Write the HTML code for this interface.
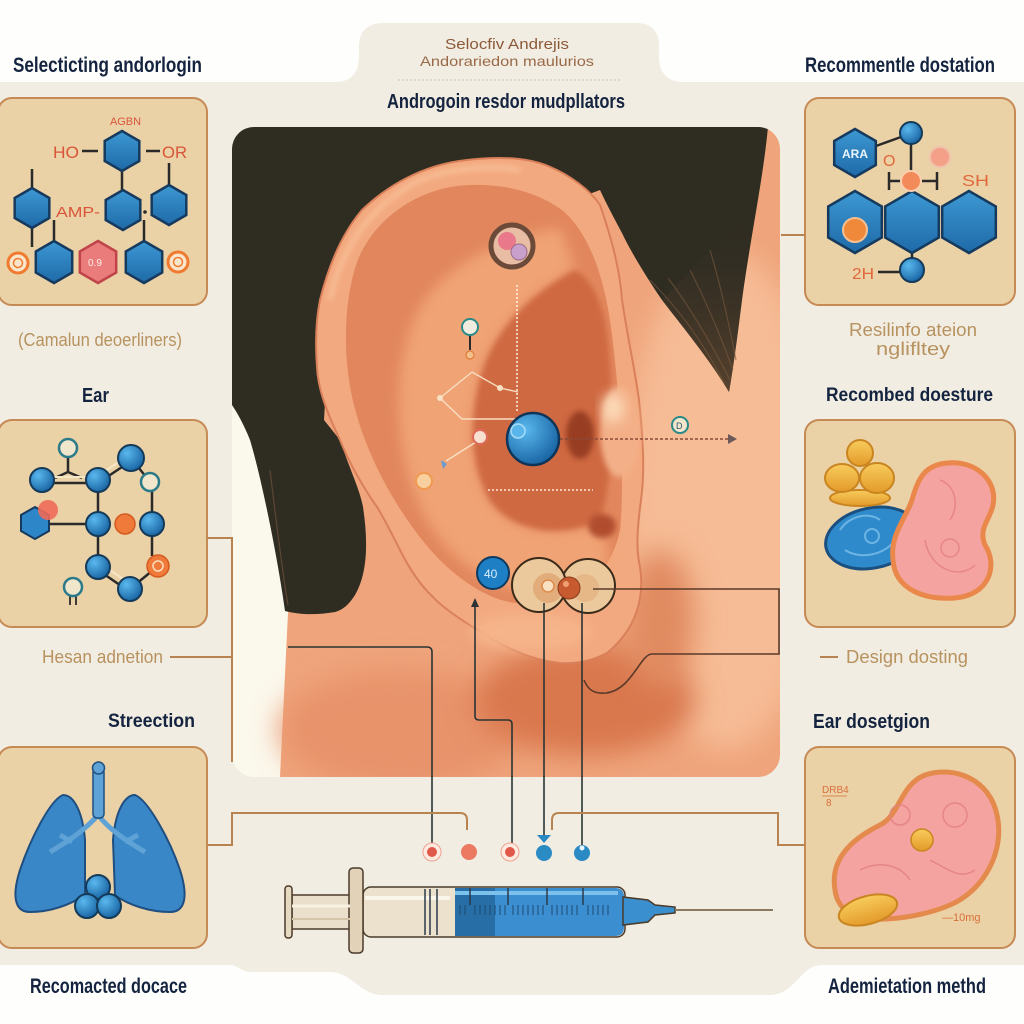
<!DOCTYPE html>
<html><head><meta charset="utf-8"><style>
html,body{margin:0;padding:0;background:#fefefc;}
svg{display:block;}
text{font-family:"Liberation Sans",sans-serif;}
</style></head><body>
<svg width="1024" height="1024" viewBox="0 0 1024 1024" xmlns="http://www.w3.org/2000/svg">
<defs>
 <clipPath id="img"><rect x="232" y="127" width="548" height="650" rx="22"/></clipPath>
 <filter id="b3" x="-20%" y="-20%" width="140%" height="140%"><feGaussianBlur stdDeviation="3"/></filter>
 <filter id="b6" x="-30%" y="-30%" width="160%" height="160%"><feGaussianBlur stdDeviation="6"/></filter>
 <filter id="b14" x="-50%" y="-50%" width="200%" height="200%"><feGaussianBlur stdDeviation="14"/></filter>
 <radialGradient id="ballg" cx="0.35" cy="0.32" r="0.75"><stop offset="0" stop-color="#5ab8ee"/><stop offset="1" stop-color="#15609f"/></radialGradient>
 <linearGradient id="hexg" x1="0" y1="0" x2="0" y2="1"><stop offset="0" stop-color="#3d98d3"/><stop offset="1" stop-color="#1e6aa8"/></linearGradient>
 <linearGradient id="goldg" x1="0" y1="0" x2="0" y2="1"><stop offset="0" stop-color="#f8cc5c"/><stop offset="1" stop-color="#e39a2a"/></linearGradient>
 <linearGradient id="hairside" x1="0" y1="0" x2="0" y2="1"><stop offset="0" stop-color="#2f2c22" stop-opacity="0"/><stop offset="1" stop-color="#6b4c33" stop-opacity="0.7"/></linearGradient>
</defs>

<rect width="1024" height="1024" fill="#fefefc"/>
<path d="M0,82 H335 Q358,82 359,58 V45 Q360,23 384,23 H636 Q658,23 659,45 V58 Q660,82 684,82 H1024 V965 H822 C800,965 795,995 770,995 H382 C360,995 352,972 330,972 H252 C240,972 240,965 228,965 H0 Z" fill="#f1ede2"/>
<line x1="398" y1="80" x2="620" y2="80" stroke="#d2ccbf" stroke-width="1.2" stroke-dasharray="2 2"/>

<text x="13" y="72" font-size="21" font-weight="bold" fill="#14233f" textLength="189" lengthAdjust="spacingAndGlyphs">Selecticting andorlogin</text>
<text x="805" y="72" font-size="21" font-weight="bold" fill="#14233f" textLength="190" lengthAdjust="spacingAndGlyphs">Recommentle dostation</text>
<text x="445" y="49" font-size="15" fill="#8c5a3a" textLength="124" lengthAdjust="spacingAndGlyphs">Selocfiv Andrejis</text>
<text x="420" y="66" font-size="14" fill="#9a6a48" textLength="174" lengthAdjust="spacingAndGlyphs">Andorariedon maulurios</text>
<text x="387" y="108" font-size="20" font-weight="bold" fill="#14233f" textLength="238" lengthAdjust="spacingAndGlyphs">Androgoin resdor mudpllators</text>

<text x="18" y="346" font-size="18" fill="#b8925f" textLength="164" lengthAdjust="spacingAndGlyphs">(Camalun deoerliners)</text>
<text x="82" y="402" font-size="20" font-weight="bold" fill="#14233f" textLength="27" lengthAdjust="spacingAndGlyphs">Ear</text>
<text x="42" y="663" font-size="18" fill="#b8925f" textLength="121" lengthAdjust="spacingAndGlyphs">Hesan adnetion</text>
<text x="108" y="727" font-size="19" font-weight="bold" fill="#14233f" textLength="87" lengthAdjust="spacingAndGlyphs">Streection</text>
<text x="30" y="993" font-size="21" font-weight="bold" fill="#14233f" textLength="157" lengthAdjust="spacingAndGlyphs">Recomacted docace</text>

<text x="849" y="336" font-size="18" fill="#b8925f" textLength="128" lengthAdjust="spacingAndGlyphs">Resilinfo ateion</text>
<text x="876" y="355" font-size="18" fill="#b8925f" textLength="74" lengthAdjust="spacingAndGlyphs">nglifltey</text>
<text x="826" y="401" font-size="19" font-weight="bold" fill="#14233f" textLength="167" lengthAdjust="spacingAndGlyphs">Recombed doesture</text>
<text x="846" y="663" font-size="18" fill="#b8925f" textLength="122" lengthAdjust="spacingAndGlyphs">Design dosting</text>
<text x="813" y="728" font-size="20" font-weight="bold" fill="#14233f" textLength="117" lengthAdjust="spacingAndGlyphs">Ear dosetgion</text>
<text x="828" y="993" font-size="21" font-weight="bold" fill="#14233f" textLength="158" lengthAdjust="spacingAndGlyphs">Ademietation methd</text>

<g fill="#ebd1a6" stroke="#c68a55" stroke-width="2">
 <rect x="-2" y="98" width="209" height="207" rx="14"/>
 <rect x="-2" y="420" width="209" height="207" rx="14"/>
 <rect x="-2" y="747" width="209" height="201" rx="14"/>
 <rect x="805" y="98" width="210" height="207" rx="14"/>
 <rect x="805" y="420" width="210" height="207" rx="14"/>
 <rect x="805" y="747" width="210" height="201" rx="14"/>
</g>

<!-- CENTER IMAGE -->
<g clip-path="url(#img)">
 <rect x="232" y="127" width="548" height="650" fill="#fbf8ec"/>
 <path d="M290,127 H780 V777 H280 L288,613 Z" fill="#efa47b"/>
 <ellipse cx="725" cy="500" rx="100" ry="250" fill="#f6bc95" filter="url(#b14)"/>
 <ellipse cx="400" cy="730" rx="120" ry="60" fill="#e8936a" filter="url(#b14)"/>
 <ellipse cx="585" cy="700" rx="110" ry="55" fill="#d9774e" filter="url(#b14)"/>
 <ellipse cx="660" cy="620" rx="35" ry="70" fill="#e18a60" filter="url(#b14)"/>
 <!-- hair -->
 <path d="M232,127 H768 C763,180 750,240 742,300 C737,340 733,370 729,392 C710,360 685,330 662,300 C645,275 630,250 622,233 C615,220 607,205 600,190 L560,205 L470,200 L380,218 L332,282 L324,420 L340,440 C350,470 360,490 363,507 C368,540 368,573 355,595 C348,606 342,610 335,612 C318,615 300,615 285,611 C278,560 262,480 250,440 C244,425 238,414 232,405 Z" fill="#2f2c22"/>
 <path d="M662,300 C685,330 710,360 729,392 C733,370 737,340 742,300 C745,270 748,240 752,210 C720,240 690,270 662,300 Z" fill="url(#hairside)"/>
 <g stroke="#7a5a3e" stroke-width="1.2" fill="none" opacity="0.6">
  <path d="M650,280 C680,310 705,345 725,385"/>
  <path d="M668,278 C692,310 712,345 730,380"/>
  <path d="M690,270 C708,305 722,340 733,370"/>
  <path d="M710,250 C722,290 730,330 736,360"/>
  <path d="M270,470 C276,520 282,570 288,605"/>
 </g>
 <!-- ear -->
 <path d="M640,567 C645,600 635,630 607,653 C590,662 575,664 560,663 C530,660 500,645 483,633 C460,620 440,605 433,597 C420,585 410,570 400,550 C390,530 382,515 377,507 C365,490 350,465 340,440 C328,415 318,390 317,367 C315,340 316,320 320,300 C330,260 345,230 362,210 C385,188 420,165 467,160 C500,156 528,158 548,166 C570,175 590,190 600,205 C612,240 620,270 622,300 C628,340 635,370 639,400 C643,440 645,470 641,500 C637,530 636,550 640,567 Z" fill="#f3a97f" stroke="#d9805a" stroke-width="2"/>
 <path d="M330,300 C340,250 370,205 420,180 C450,168 490,165 520,170" fill="none" stroke="#fbd0aa" stroke-width="4" opacity="0.7" filter="url(#b3)"/>
 <path d="M612,335 C606,285 592,235 562,210 C532,188 492,182 457,186 C412,192 372,222 357,262 C344,300 343,350 351,392 C361,442 386,492 416,532 C441,566 471,590 501,600 C531,608 561,604 581,590 C601,576 615,556 620,530 C625,480 620,400 612,335 Z" fill="#e2875d"/>
 <path d="M560,228 C520,235 460,252 425,300 C395,345 392,420 410,480 C425,530 460,575 520,590 C560,598 600,580 610,560 L600,520 C560,540 510,530 490,500 C470,465 470,420 480,380 C490,340 520,300 575,270 Z" fill="#f0a374" filter="url(#b6)"/>
 <path d="M575,270 C520,300 490,340 480,380 C470,420 470,465 490,500 C510,530 560,540 600,520 C615,480 615,380 605,320 C598,295 590,278 575,270 Z" fill="#cf6943" filter="url(#b3)"/>
 <ellipse cx="580" cy="435" rx="14" ry="24" fill="#983e24" filter="url(#b3)"/>
 <ellipse cx="620" cy="432" rx="20" ry="45" fill="#f3b088" filter="url(#b3)"/>
 <ellipse cx="613" cy="408" rx="11" ry="15" fill="#fcd9b8" filter="url(#b6)"/>
 <ellipse cx="602" cy="526" rx="14" ry="12" fill="#b14d2e" filter="url(#b3)"/>
 <ellipse cx="530" cy="632" rx="60" ry="18" fill="#f6b48a" filter="url(#b6)"/>

 <!-- annotations on ear -->
 <circle cx="512" cy="246" r="21" fill="#e9bca4" stroke="#6b4a3a" stroke-width="5"/>
 <circle cx="507" cy="241" r="9" fill="#e8788a"/>
 <circle cx="519" cy="252" r="8" fill="#c9a0cc" stroke="#9a6a8a" stroke-width="1"/>
 <line x1="517" y1="285" x2="517" y2="412" stroke="#fff3e6" stroke-width="1.5" stroke-dasharray="2 2"/>
 <g stroke="#f8dcc0" stroke-width="1.4" fill="none">
  <path d="M472,372 L440,398 L462,419 L516,419 M472,372 L500,388 L518,392"/>
 </g>
 <circle cx="440" cy="398" r="3" fill="#f8e0c4"/><circle cx="500" cy="388" r="3" fill="#f8e0c4"/>
 <line x1="470" y1="334" x2="470" y2="350" stroke="#2a2a2a" stroke-width="2"/>
 <circle cx="470" cy="327" r="8" fill="#f0ede0" stroke="#2a8a8a" stroke-width="2"/>
 <circle cx="470" cy="355" r="4" fill="#f3c28c" stroke="#e07a3a" stroke-width="1.2"/>
 <line x1="476" y1="442" x2="446" y2="461" stroke="#f8e0c4" stroke-width="1.4"/>
 <circle cx="480" cy="437" r="7" fill="#f8e0d0" stroke="#e06a5a" stroke-width="2"/>
 <path d="M441,460 L447,464 L443,469 Z" fill="#6a9ad0"/>
 <circle cx="424" cy="481" r="8" fill="#f8d0a0" stroke="#f09a50" stroke-width="2"/>
 <line x1="488" y1="490" x2="593" y2="490" stroke="#fbe8d6" stroke-width="1.5" stroke-dasharray="2 2"/>
 <line x1="560" y1="439" x2="728" y2="439" stroke="#8a4a3a" stroke-width="1.5" stroke-dasharray="3 2"/>
 <path d="M728,434 L737,439 L728,444 Z" fill="#6a5a5a"/>
 <circle cx="680" cy="425" r="8" fill="#f3e6cc" stroke="#2a8a8a" stroke-width="2"/>
 <text x="676" y="429" font-size="9" fill="#2a5a6a">D</text>
 <circle cx="533" cy="439" r="26" fill="url(#ballg)" stroke="#0e3458" stroke-width="2.5"/>
 <circle cx="518" cy="431" r="7" fill="#5ab5ea" stroke="#a8dcf8" stroke-width="1.5"/>
 <!-- lobe ring -->
 <circle cx="588" cy="586" r="27" fill="#ebc99c" stroke="#3a2a1a" stroke-width="2"/>
 <circle cx="539" cy="585" r="27" fill="#ebc99c" stroke="#3a2a1a" stroke-width="2"/>
 <circle cx="548" cy="588" r="15" fill="#e2ad7a"/>
 <circle cx="585" cy="588" r="14" fill="#e6b888"/>
 <circle cx="548" cy="586" r="6" fill="#f8e0c0" stroke="#e08a4a" stroke-width="1.5"/>
 <circle cx="569" cy="588" r="11" fill="#c85a30" stroke="#8a3a1a" stroke-width="1"/>
 <circle cx="566" cy="584" r="3" fill="#f0a070"/>
 <circle cx="493" cy="573" r="16" fill="#1f7fc4" stroke="#0f3a60" stroke-width="2"/>
 <text x="484" y="578" font-size="12" fill="#d8f0ff">40</text>
 <g stroke="#2a3434" stroke-width="1.6" fill="none">
  <path d="M288,647 H427 Q432,647 432,652 V800"/>
  <path d="M475,606 V716 Q475,720 479,720 H508 Q512,720 512,724 V800"/>
  <path d="M544,603 V800"/>
  <path d="M582,603 V800"/>
 </g>
 <path d="M475,598 L471,607 L479,607 Z" fill="#2a3434"/>
 <g stroke="#5a3a2a" stroke-width="1.6" fill="none">
  <path d="M593,589 H779 V654 H652 C640,654 632,690 606,693 C594,694 588,690 584,680"/>
 </g>
</g>

<g stroke="#2a3434" stroke-width="1.6" fill="none">
 <path d="M432,776 V844"/><path d="M512,776 V844"/><path d="M544,776 V836"/><path d="M582,776 V845"/>
</g>
<path d="M537,835 L551,835 L544,843 Z" fill="#2a8ac4"/>
<g stroke="#b9834f" stroke-width="2" fill="none">
 <path d="M207,538 H232 V762"/>
 <path d="M170,657 H232"/>
 <path d="M207,845 H232 V813 H460 Q467,813 467,820 V830"/>
 <path d="M552,830 V820 Q552,813 559,813 H778 V845 H805"/>
 <path d="M805,235 H781"/>
 <path d="M820,657 H838"/>
</g>
<circle cx="432" cy="852" r="9" fill="#fdebe0" stroke="#f0a090" stroke-width="1"/><circle cx="432" cy="852" r="5" fill="#e0584a"/>
<circle cx="469" cy="852" r="8" fill="#ec7a62"/>
<circle cx="510" cy="852" r="9" fill="#fdebe0" stroke="#f0a090" stroke-width="1"/><circle cx="510" cy="852" r="5" fill="#e0584a"/>
<circle cx="544" cy="853" r="8" fill="#2a8ac4"/>
<circle cx="582" cy="853" r="8" fill="#2a8ac4"/><circle cx="582" cy="848" r="2.5" fill="#e8f4fc"/>

<!-- syringe -->
<g stroke="#4a3a2a" stroke-width="1.5">
 <rect x="292" y="895" width="58" height="34" fill="#eadfca"/>
 <rect x="285" y="886" width="7" height="52" rx="3" fill="#e6d9c2"/>
 <rect x="363" y="887" width="262" height="50" rx="8" fill="#ece1cc"/>
 <path d="M455,888 H615 Q624,888 624,897 V927 Q624,936 615,936 H455 Z" fill="#3b8fd0" stroke="none"/>
 <rect x="455" y="888" width="40" height="48" fill="#1f5f94" stroke="none" opacity="0.7"/>
 <rect x="349" y="868" width="14" height="85" rx="4" fill="#e2d3b8"/>
 <path d="M623,897 L648,900 L655,905 L675,907 L675,913 L655,915 L648,922 L623,925 Z" fill="#3a8fcf"/>
</g>
<line x1="292" y1="906" x2="350" y2="906" stroke="#f8f0e0" stroke-width="3"/>
<line x1="292" y1="919" x2="350" y2="919" stroke="#d4c4a8" stroke-width="2"/>
<line x1="365" y1="898" x2="450" y2="898" stroke="#fbf6ec" stroke-width="4"/>
<line x1="455" y1="893" x2="618" y2="893" stroke="#7cc0ec" stroke-width="4"/>
<g stroke="#2a3a4a" stroke-width="1.5">
 <line x1="425" y1="889" x2="425" y2="935"/><line x1="430" y1="889" x2="430" y2="935"/><line x1="437" y1="889" x2="437" y2="935"/>
 <line x1="470" y1="888" x2="470" y2="905"/><line x1="508" y1="888" x2="508" y2="905"/><line x1="547" y1="888" x2="547" y2="905"/><line x1="583" y1="888" x2="583" y2="905"/>
</g>
<g stroke="#1d4a70" stroke-width="1">
 <path d="M460,905 v10 M465,905 v10 M475,905 v10 M480,905 v10 M485,905 v10 M490,905 v10 M495,905 v10 M500,905 v10 M505,905 v10 M513,905 v10 M518,905 v10 M523,905 v10 M528,905 v10 M533,905 v10 M538,905 v10 M543,905 v10 M552,905 v10 M557,905 v10 M562,905 v10 M567,905 v10 M572,905 v10 M577,905 v10 M588,905 v10 M593,905 v10 M598,905 v10 M603,905 v10 M608,905 v10"/>
</g>
<line x1="675" y1="910" x2="773" y2="910" stroke="#8a7a60" stroke-width="2"/>

<!-- BOX 1 molecule -->
<g stroke="#2a2a2a" stroke-width="2.5">
 <line x1="32" y1="169" x2="32" y2="188"/><line x1="32" y1="228" x2="32" y2="247"/>
 <line x1="122" y1="170" x2="122" y2="190"/><line x1="169" y1="163" x2="169" y2="185"/>
 <line x1="54" y1="220" x2="54" y2="242"/><line x1="144" y1="220" x2="144" y2="242"/>
 <line x1="82" y1="151" x2="98" y2="151"/><line x1="146" y1="151" x2="160" y2="151"/>
</g>
<g fill="url(#hexg)" stroke="#163a5e" stroke-width="2.5">
 <polygon points="122,131 139.3,141 139.3,161 122,171 104.7,161 104.7,141"/>
 <polygon points="32,188 49.3,198 49.3,218 32,228 14.7,218 14.7,198"/>
 <polygon points="123,190 140.3,200 140.3,220 123,230 105.7,220 105.7,200"/>
 <polygon points="169,185 186.3,195 186.3,215 169,225 151.7,215 151.7,195"/>
 <polygon points="54,241 72.2,251.5 72.2,272.5 54,283 35.8,272.5 35.8,251.5"/>
 <polygon points="144,241 162.2,251.5 162.2,272.5 144,283 125.8,272.5 125.8,251.5"/>
</g>
<polygon points="98,241 116.2,251.5 116.2,272.5 98,283 79.8,272.5 79.8,251.5" fill="#ea7c7c" stroke="#c0454a" stroke-width="2.5"/>
<text x="88" y="266" font-size="10" fill="#fff0e8">0.9</text>
<circle cx="145" cy="212" r="1.8" fill="#2a2a2a"/>
<text x="110" y="125" font-size="11" fill="#d9553a" textLength="31" lengthAdjust="spacingAndGlyphs">AGBN</text>
<text x="53" y="158" font-size="17" fill="#d9553a" textLength="26" lengthAdjust="spacingAndGlyphs">HO</text>
<text x="162" y="158" font-size="17" fill="#d9553a" textLength="25" lengthAdjust="spacingAndGlyphs">OR</text>
<text x="56" y="217" font-size="15" fill="#d9553a" textLength="44" lengthAdjust="spacingAndGlyphs">AMP-</text>
<circle cx="18" cy="263" r="10" fill="#fbe6cc" stroke="#ef7a30" stroke-width="3"/><circle cx="18" cy="263" r="4.5" fill="none" stroke="#ef7a30" stroke-width="1.5"/>
<circle cx="178" cy="262" r="10" fill="#fbe6cc" stroke="#ef7a30" stroke-width="3"/><circle cx="178" cy="262" r="4.5" fill="none" stroke="#ef7a30" stroke-width="1.5"/>

<!-- BOX 2 molecule -->
<g stroke="#2a2a2a" stroke-width="2.5" fill="none">
 <line x1="42" y1="483" x2="98" y2="483"/>
 <path d="M68,457 V472 L55,478 M68,472 L82,478"/>
 <line x1="98" y1="483" x2="131" y2="461"/>
 <line x1="131" y1="458" x2="150" y2="482"/>
 <line x1="98" y1="480" x2="98" y2="567"/>
 <line x1="98" y1="524" x2="48" y2="524"/>
 <line x1="152" y1="490" x2="152" y2="556"/>
 <line x1="98" y1="570" x2="130" y2="592"/>
 <line x1="130" y1="589" x2="158" y2="566"/>
 <path d="M70,596 V605 M76,596 V605" stroke-width="1.8"/>
</g>
<g stroke="#f5e6c8" stroke-width="2" fill="none">
 <line x1="42" y1="477" x2="98" y2="477"/><line x1="98" y1="476" x2="129" y2="455"/><line x1="101" y1="564" x2="132" y2="585"/>
</g>
<polygon points="35,507 49,515 49,531 35,539 21,531 21,515" fill="#2d86c8" stroke="#163a5e" stroke-width="2"/>
<circle cx="48" cy="510" r="10" fill="#ef6a5a" opacity="0.9"/>
<g fill="url(#ballg)" stroke="#143a5a" stroke-width="2">
 <circle cx="42" cy="480" r="12"/><circle cx="98" cy="480" r="12"/><circle cx="131" cy="458" r="13"/>
 <circle cx="98" cy="524" r="12"/><circle cx="152" cy="524" r="12"/><circle cx="98" cy="567" r="12"/><circle cx="130" cy="589" r="12"/>
</g>
<g fill="#efe6cc" stroke="#2a7a8a" stroke-width="2.5">
 <circle cx="150" cy="482" r="9"/><circle cx="68" cy="448" r="9"/><circle cx="73" cy="587" r="9"/>
</g>
<circle cx="125" cy="524" r="10" fill="#ef7a3a" stroke="#d45a20" stroke-width="1.5"/>
<circle cx="158" cy="566" r="11" fill="#ef7a3a" stroke="#d45a20" stroke-width="1.5"/>
<circle cx="158" cy="566" r="5" fill="none" stroke="#fde0c0" stroke-width="1.5"/>

<!-- BOX 3 lungs -->
<path d="M63,795 C50,800 30,840 20,870 C12,895 14,912 30,912 C50,912 70,905 85,895 L85,840 C83,815 75,795 63,795 Z" fill="#3a87c8" stroke="#1f4f80" stroke-width="2"/>
<path d="M135,795 C148,800 170,840 180,870 C188,895 186,912 170,912 C150,912 128,905 115,895 L113,840 C115,815 123,795 135,795 Z" fill="#3a87c8" stroke="#1f4f80" stroke-width="2"/>
<path d="M98,815 C85,830 70,840 50,852 M98,815 C110,830 125,840 145,852 M72,842 L60,835 M125,842 L138,835" stroke="#5ea2d6" stroke-width="5" fill="none"/>
<rect x="93" y="768" width="11" height="50" rx="4" fill="#5ea2d6" stroke="#1f4f80" stroke-width="1.5"/>
<circle cx="98.5" cy="768" r="6" fill="#5ea2d6" stroke="#1f4f80" stroke-width="1.5"/>
<g fill="url(#ballg)" stroke="#143a5a" stroke-width="2">
 <circle cx="98" cy="887" r="12"/><circle cx="87" cy="906" r="12"/><circle cx="109" cy="906" r="12"/>
</g>

<!-- BOX R1 molecule -->
<g stroke="#2a2a2a" stroke-width="2.5" fill="none">
 <line x1="876" y1="146" x2="901" y2="137"/>
 <line x1="911" y1="144" x2="911" y2="192"/>
 <line x1="889" y1="172" x2="889" y2="190"/><line x1="937" y1="172" x2="937" y2="190"/>
 <line x1="889" y1="181" x2="937" y2="181"/>
 <line x1="878" y1="272" x2="900" y2="272"/>
 <line x1="912" y1="252" x2="912" y2="259"/>
</g>
<polygon points="855,129 875.8,141 875.8,165 855,177 834.2,165 834.2,141" fill="url(#hexg)" stroke="#163a5e" stroke-width="2.5"/>
<text x="842" y="158" font-size="12" font-weight="bold" fill="#eaf4fc">ARA</text>
<circle cx="911" cy="133" r="11" fill="url(#ballg)" stroke="#143a5a" stroke-width="2"/>
<text x="883" y="166" font-size="16" fill="#e0683a">O</text>
<circle cx="940" cy="157" r="10" fill="#f4a088" stroke="#f0c0a8" stroke-width="2"/>
<g fill="url(#hexg)" stroke="#163a5e" stroke-width="2.5">
 <polygon points="855,191 881.8,206.5 881.8,237.5 855,253 828.2,237.5 828.2,206.5"/>
 <polygon points="912,191 938.8,206.5 938.8,237.5 912,253 885.2,237.5 885.2,206.5"/>
 <polygon points="969,191 995.8,206.5 995.8,237.5 969,253 942.2,237.5 942.2,206.5"/>
</g>
<circle cx="911" cy="181" r="10" fill="#f28a5a" stroke="#fbd0b0" stroke-width="2"/>
<circle cx="855" cy="230" r="12" fill="#f08a3a" stroke="#f8c090" stroke-width="2"/>
<circle cx="912" cy="270" r="12" fill="url(#ballg)" stroke="#143a5a" stroke-width="2"/>
<text x="962" y="186" font-size="16" fill="#e0683a" textLength="27" lengthAdjust="spacingAndGlyphs">SH</text>
<text x="852" y="279" font-size="16" fill="#e0683a" textLength="22" lengthAdjust="spacingAndGlyphs">2H</text>

<!-- BOX R2 -->
<ellipse cx="872" cy="538" rx="47" ry="30" transform="rotate(-12 872 538)" fill="#2f8acb" stroke="#1a4f80" stroke-width="3"/>
<g stroke="#7cc0ea" stroke-width="2" fill="none" opacity="0.8">
 <path d="M840,530 C850,515 870,512 880,520"/><path d="M845,550 C860,560 885,555 895,540"/>
 <circle cx="872" cy="536" r="7"/>
</g>
<ellipse cx="860" cy="498" rx="30" ry="8" fill="url(#goldg)" stroke="#c98520" stroke-width="2"/>
<ellipse cx="842" cy="478" rx="17" ry="14" fill="url(#goldg)" stroke="#c98520" stroke-width="2"/>
<ellipse cx="877" cy="478" rx="17" ry="15" fill="url(#goldg)" stroke="#c98520" stroke-width="2"/>
<circle cx="860" cy="453" r="13" fill="url(#goldg)" stroke="#c98520" stroke-width="2"/>
<path d="M947,463 C975,460 998,480 993,505 C990,520 978,528 985,545 C998,565 990,595 955,598 C925,600 895,590 893,560 C890,535 905,520 912,500 C918,478 925,465 947,463 Z" fill="#f5a3a0" stroke="#e9884a" stroke-width="5"/>
<g stroke="#e27f80" stroke-width="1.5" fill="none" opacity="0.8">
 <path d="M940,480 C955,485 960,505 950,520"/><circle cx="950" cy="548" r="9"/><path d="M925,540 C930,570 960,580 975,565"/>
</g>

<!-- BOX R3 -->
<path d="M835,890 C830,860 850,840 880,825 C900,815 900,785 925,775 C955,765 990,780 997,815 C1005,850 985,890 950,905 C915,920 860,925 845,910 C838,903 836,897 835,890 Z" fill="#f5a3a0" stroke="#e38a4c" stroke-width="5"/>
<g stroke="#e27f80" stroke-width="1.5" fill="none" opacity="0.8">
 <circle cx="900" cy="815" r="10"/><circle cx="955" cy="815" r="12"/><path d="M860,870 C880,860 900,865 910,880"/><path d="M930,860 C950,870 960,880 975,870"/>
</g>
<circle cx="922" cy="840" r="11" fill="url(#goldg)" stroke="#c98520" stroke-width="1.5"/>
<ellipse cx="868" cy="910" rx="30" ry="14" transform="rotate(-15 868 910)" fill="url(#goldg)" stroke="#c98520" stroke-width="2"/>
<text x="822" y="793" font-size="10" fill="#d9703a">DRB4</text>
<line x1="822" y1="796" x2="847" y2="796" stroke="#d9703a" stroke-width="0.8"/>
<text x="826" y="806" font-size="10" fill="#d9703a">8</text>
<text x="942" y="921" font-size="11" fill="#d9703a">—10mg</text>
</svg>
</body></html>
